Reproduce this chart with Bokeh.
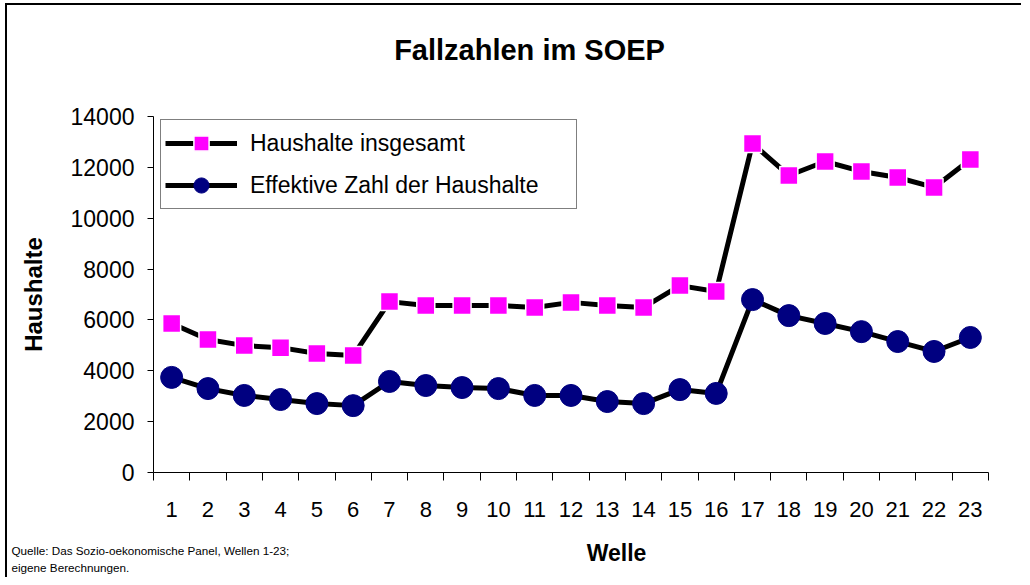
from bokeh.plotting import figure
from bokeh.layouts import column
from bokeh.models import (FixedTicker, Label, Legend, LegendItem, Range1d,
                          ColumnDataSource)
from bokeh.embed import file_html
from bokeh.resources import INLINE

# ---- data ----
wellen = [str(i) for i in range(1, 24)]
haushalte_insgesamt = [5860, 5230, 4990, 4910, 4680, 4600, 6720, 6570, 6570,
                       6570, 6490, 6690, 6570, 6490, 7350, 7120, 12940, 11680,
                       12230, 11840, 11600, 11210, 12310]
effektive_zahl = [3740, 3300, 3030, 2870, 2710, 2630, 3580, 3420, 3340, 3300,
                  3030, 3030, 2790, 2710, 3260, 3110, 6800, 6170, 5860, 5540,
                  5150, 4760, 5310]
y_ticks = [0, 2000, 4000, 6000, 8000, 10000, 12000, 14000]

title_text = "Fallzahlen im SOEP"
x_title = "Welle"
y_title = "Haushalte"
label_ins = "Haushalte insgesamt"
label_eff = "Effektive Zahl der Haushalte"
source_lines = ["Quelle: Das Sozio-oekonomische Panel, Wellen 1-23;",
                "eigene Berechnungen."]

FONT = "Liberation Sans"
W = 1014
TOP_H, MAIN_H, BOT_H = 75, 450, 47
FRAME_W, FRAME_H = 835, 356
BL, BT = 146, 36


def strip(h):
    f = figure(width=W, height=h, output_backend="svg", toolbar_location=None,
               x_range=Range1d(0, W), y_range=Range1d(0, h),
               x_axis_type=None, y_axis_type=None, frame_align=False,
               min_border=0, min_border_left=0, min_border_right=0,
               min_border_top=0, min_border_bottom=0)
    f.outline_line_color = None
    f.grid.visible = False
    f.background_fill_color = "white"
    f.border_fill_color = "white"
    return f


def lbl(x, y, text, size, bold=False, align="center"):
    return Label(x=x, y=y, x_units="screen", y_units="screen", text=text,
                 text_font=FONT, text_font_size=size,
                 text_font_style="bold" if bold else "normal",
                 text_align=align, text_baseline="middle", text_color="black")


# ---- title strip ----
top = strip(TOP_H)
top.add_layout(lbl(522, TOP_H - 44, title_text, "29px", bold=True))

# ---- main chart ----
xs = list(range(1, len(wellen) + 1))
src = ColumnDataSource(dict(x=xs, ins=haushalte_insgesamt, eff=effektive_zahl))

p = figure(width=W, height=MAIN_H, output_backend="svg", toolbar_location=None,
           x_range=Range1d(0.5, len(wellen) + 0.5), y_range=Range1d(0, 14000),
           min_border_left=BL, min_border_top=BT,
           min_border_right=W - BL - FRAME_W,
           min_border_bottom=MAIN_H - BT - FRAME_H)
p.outline_line_color = None
p.xgrid.visible = False
p.ygrid.visible = False
p.background_fill_color = "white"
p.border_fill_color = "white"

xa = p.xaxis[0]
xa.ticker = FixedTicker(ticks=xs, minor_ticks=[i + 0.5 for i in range(0, len(wellen) + 1)])
xa.major_label_overrides = {x: lab for x, lab in zip(xs, wellen)}
xa.major_tick_out = 0
xa.major_tick_in = 0
xa.minor_tick_out = 8
xa.minor_tick_in = 0
xa.minor_tick_line_color = "black"
xa.axis_line_color = "black"
xa.major_label_standoff = 21
xa.major_label_text_font = FONT
xa.major_label_text_font_size = "22px"
xa.major_label_text_color = "black"

ya = p.yaxis[0]
ya.ticker = FixedTicker(ticks=y_ticks, minor_ticks=[])
ya.major_label_overrides = {t: str(t) for t in y_ticks}
ya.major_tick_out = 6
ya.major_tick_in = 0
ya.major_tick_line_color = "black"
ya.axis_line_color = "black"
ya.major_label_standoff = 13
ya.major_label_text_font = FONT
ya.major_label_text_font_size = "23px"
ya.major_label_text_color = "black"
ya.axis_label = y_title
ya.axis_label_standoff = 21
ya.axis_label_text_font = FONT
ya.axis_label_text_font_size = "24px"
ya.axis_label_text_font_style = "bold"
ya.axis_label_text_color = "black"

l1 = p.line("x", "ins", source=src, line_color="black", line_width=5)
s1 = p.scatter("x", "ins", source=src, marker="square", size=18,
               fill_color="#FF00FF", line_color="white", line_width=1.5)
l2 = p.line("x", "eff", source=src, line_color="black", line_width=5)
s2 = p.scatter("x", "eff", source=src, marker="circle", size=22,
               fill_color="#000080", line_color="#000080", line_width=1)

legend = Legend(items=[LegendItem(label=label_ins, renderers=[l1, s1]),
                       LegendItem(label=label_eff, renderers=[l2, s2])],
                location=(7, 263), orientation="vertical",
                padding=4, spacing=4, margin=0,
                glyph_width=72, glyph_height=38, label_height=38,
                label_width=322, label_standoff=13,
                label_text_font=FONT, label_text_font_size="23px",
                label_text_color="black",
                border_line_color="black", border_line_width=1,
                background_fill_color="white", background_fill_alpha=1)
p.add_layout(legend)

# ---- bottom strip ----
bot = strip(BOT_H)
bot.add_layout(lbl(609, BOT_H - 22, x_title, "23px", bold=True))
bot.add_layout(lbl(4, BOT_H - 20, source_lines[0], "11.7px", align="left"))
bot.add_layout(lbl(4, BOT_H - 37, source_lines[1], "11.7px", align="left"))

layout = column(top, p, bot, spacing=0, margin=(3, 0, 0, 5),
                styles={"border-left": "2px solid black",
                        "border-top": "2px solid black"})

open("out.html", "w").write(file_html(layout, INLINE))
